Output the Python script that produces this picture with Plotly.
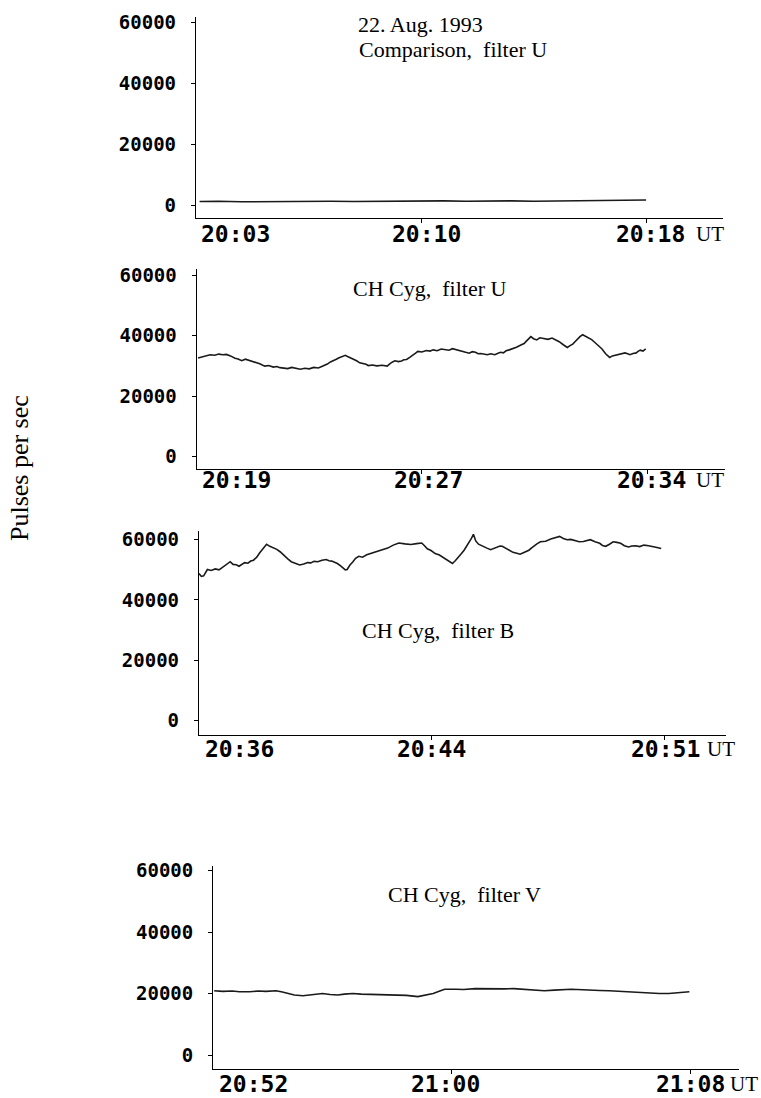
import plotly.graph_objects as go

# ---------------- data (x = position along scan, % of scan; y = pulses per sec) -------------
comp_u_x = [0.8, 5, 10, 15, 20, 25, 30, 35, 40, 45, 50, 55, 60, 65, 70, 75, 80, 85, 90, 95, 100]
comp_u_y = [1300, 1400, 1200, 1300, 1400, 1300, 1400, 1300, 1400, 1500, 1400, 1500, 1400,
            1500, 1500, 1400, 1500, 1600, 1600, 1700, 1800]

chu_x = [0.3, 1.1, 2, 3, 4, 4.9, 5.8, 6.6, 7.5, 8, 8.5, 9.2, 10, 10.8, 11.5, 12.2, 13, 14,
         15.1, 16, 17, 17.8, 18.5, 19.3, 20.2, 21.1, 22, 23, 24, 25, 26, 27, 27.9, 28.5, 29,
         29.7, 30.4, 31, 31.5, 32.3, 33, 33.5, 34, 34.8, 35.5, 36.2, 37, 37.6, 38.1, 39, 40,
         41.2, 42.3, 42.7, 43, 43.5, 44, 44.8, 45.5, 46, 46.6, 47.3, 48, 48.6, 49.1, 50, 51,
         51.8, 52.5, 53.4, 54.3, 55.1, 56, 56.8, 57.5, 58.5, 59.4, 60, 60.5, 61.2, 61.9, 62.5,
         63, 63.7, 64.5, 65.3, 66.2, 66.9, 67.5, 68.1, 68.7, 69.4, 70, 71, 72.1, 72.7, 73.2,
         73.7, 74.2, 74.8, 75.5, 76.2, 77, 78, 78.9, 79.7, 80.5, 81.4, 82.3, 82.9, 83.5, 84,
         84.5, 85.1, 85.7, 86.3, 87, 87.7, 88.3, 89.1, 90, 90.8, 91.7, 92.3, 93, 94, 95.1,
         95.7, 96.2, 96.9, 97.6, 98, 98.5, 99.1, 99.7]
chu_y = [32600, 33000, 33200, 33700, 33500, 33900, 33700, 33800, 33300, 32900, 32500, 32300,
         31700, 32200, 31900, 31500, 31000, 30700, 29900, 30100, 29600, 29800, 29400, 29200,
         29100, 29500, 29300, 28900, 29200, 29000, 29500, 29300, 29900, 30200, 30600, 31300,
         31700, 32200, 32600, 33200, 33500, 33100, 32800, 32100, 31700, 31000, 30800, 30500,
         30100, 30300, 30000, 30200, 29900, 30500, 30800, 31300, 31700, 31400, 31600, 32000,
         32100, 32800, 33400, 34200, 34800, 34600, 35100, 34900, 35300, 35000, 35600, 35300,
         35200, 35700, 35400, 35100, 34800, 34400, 34200, 34700, 34500, 34000, 34100, 33900,
         33700, 34000, 33700, 34200, 34500, 34300, 35000, 35300, 35600, 36200, 37000, 37400,
         38200, 38800, 39700, 39000, 38600, 39300, 39000, 38800, 39200, 38600, 38000, 37000,
         36100, 36700, 37200, 38000, 38800, 39700, 40300, 39900, 39300, 38700, 37900, 36800,
         35600, 34000, 32800, 33300, 33500, 33900, 34300, 34000, 33700, 34100, 34300, 34800,
         35200, 34900, 35600]

chb_x = [0, 0.5, 1, 1.4, 1.8, 2.6, 3.5, 4.3, 5.1, 5.9, 6.7, 7.3, 8, 8.6, 9.2, 9.8, 10.5, 11.1,
         11.7, 12.4, 13, 13.8, 14.5, 15.2, 16, 16.7, 17.4, 18.2, 19, 19.8, 20.7, 21.6, 22.5,
         23.3, 24, 24.7, 25.5, 26.4, 27.3, 27.9, 28.5, 29.1, 29.7, 30.4, 31, 31.4, 31.8, 32.4,
         33, 33.6, 34.3, 35.1, 36, 36.6, 37.2, 38, 38.8, 39.6, 40.5, 41.7, 42.9, 44.2, 45.5,
         46.7, 47.8, 48.4, 49, 49.8, 50.7, 51.6, 52.5, 53.4, 54.4, 55, 55.5, 56.2, 56.9, 57.5,
         58, 58.5, 58.9, 59.4, 60, 60.5, 61, 61.8, 62.6, 63.3, 64, 64.6, 65.1, 65.8, 66.5,
         67.4, 68.4, 68.9, 69.5, 70.1, 70.8, 71.4, 72, 72.6, 73.3, 74.4, 75.5, 76.5, 77.4,
         78.2, 79, 79.8, 80.7, 81.6, 82.5, 83.3, 84, 85, 86, 86.6, 87.3, 88.1, 88.9, 89.7,
         90.5, 91.3, 92.2, 92.9, 93.7, 94.6, 95.5, 96.5, 97.5, 98.3, 99.2]
chb_y = [48800, 47800, 48000, 49300, 50100, 49800, 50300, 50000, 51000, 52000, 52700, 51800,
         51700, 51200, 51900, 52400, 52200, 52900, 53200, 54200, 55600, 57000, 58500, 57800,
         57300, 56800, 56000, 54700, 53700, 52700, 52100, 51600, 51900, 52400, 52300, 52800,
         52700, 53200, 53400, 53000, 52900, 52500, 52100, 51300, 50600, 50000, 50100, 51600,
         52600, 53800, 54500, 54200, 55000, 55300, 55500, 56100, 56500, 56900, 57200, 58200,
         58900, 58600, 58400, 58700, 58900, 58000, 57000, 56400, 55400, 54900, 54000, 53100,
         52100, 53000, 53800, 55200, 56500, 57900, 59300, 60500, 61800, 59600, 58500, 58100,
         57600, 57200, 56700, 57100, 57300, 57900, 57800, 57200, 56500, 55800, 55400, 55200,
         55600, 56000, 56500, 57300, 58100, 58700, 59300, 59500, 60200, 60600, 61100, 60400,
         60000, 60100, 59800, 59300, 59400, 59800, 60000, 59300, 58800, 58100, 57800, 58500,
         59300, 59100, 58800, 58000, 57600, 57900, 58000, 57700, 58200, 58000, 57800, 57400,
         57100]

chv_x = [0.2, 2, 4, 5.5, 7.6, 9.5, 11, 13.2, 14.5, 15.6, 17, 18.8, 20.5, 22.9, 24.5, 26.1,
         27.5, 29.3, 31, 33, 34.9, 36.5, 38.9, 40.5, 42.9, 44.5, 46.1, 47.5, 48.5, 50.9, 52.5,
         54.9, 57, 59, 61, 63, 65.5, 67, 69.4, 71.5, 73, 75, 77.5, 79.5, 81, 83, 85, 87, 89.4,
         91.5, 93.5, 95.5, 97.4, 99.8]
chv_y = [20900, 20700, 20800, 20600, 20600, 20800, 20700, 20900, 20500, 20000, 19500, 19300,
         19600, 20000, 19700, 19500, 19800, 20000, 19800, 19700, 19600, 19700, 19500, 19400,
         19000, 19400, 20000, 20800, 21400, 21400, 21300, 21600, 21500, 21600, 21500, 21600,
         21300, 21000, 20900, 21100, 21300, 21400, 21200, 21000, 21000, 20900, 20700, 20500,
         20300, 20100, 20000, 20000, 20200, 20600]

panel_titles = ["Comparison,\u00a0 filter U", "CH Cyg,\u00a0 filter U",
                "CH Cyg,\u00a0 filter B", "CH Cyg,\u00a0 filter V"]
time_labels = [["20:03", "20:10", "20:18"],
               ["20:19", "20:27", "20:34"],
               ["20:36", "20:44", "20:51"],
               ["20:52", "21:00", "21:08"]]
y_ticks = [0, 20000, 40000, 60000]
y_ticktext = ["0", "20000", "40000", "60000"]
date_text = "22. Aug. 1993"
y_title = "Pulses per sec"

series = [(comp_u_x, comp_u_y), (chu_x, chu_y), (chb_x, chb_y), (chv_x, chv_y)]

# ---------------- layout geometry (pixels) ----------------
W, H = 761, 1098
geo = [
    dict(l=196, r=722.6, t=10, b=212, yr=[-4000, 61800], xmax=117.0,
         lab_y=228, first=3, mid=5, end=4, ut=48, title=(452.6, 43)),
    dict(l=196.7, r=724.5, t=264, b=465, yr=[-4200, 62000], xmax=117.2,
         lab_y=476, first=3, mid=7, end=4, ut=47, title=(429.7, 283)),
    dict(l=199, r=726.4, t=527, b=732.7, yr=[-4800, 63000], xmax=113.2,
         lab_y=747, first=4, mid=0, end=1, ut=40, title=(438, 627)),
    dict(l=213.2, r=739, t=865, b=1069, yr=[-4600, 61300], xmax=110.2,
         lab_y=1084, first=4, mid=-6, end=0, ut=38, title=(464, 893)),
]

mono = dict(family="DejaVu Sans Mono", color="black", weight="bold")
serif = "Liberation Serif, Times New Roman, serif"

fig = go.Figure()
annotations = []
layout = dict(width=W, height=H, margin=dict(l=0, r=0, t=0, b=0),
              paper_bgcolor="white", plot_bgcolor="white", showlegend=False)

for i, ((xs, ys), g) in enumerate(zip(series, geo)):
    n = "" if i == 0 else str(i + 1)
    fig.add_trace(go.Scatter(x=xs, y=ys, mode="lines", xaxis="x" + n, yaxis="y" + n,
                             line=dict(color="#1a1a1a", width=1.6), hoverinfo="skip"))
    layout["xaxis" + n] = dict(domain=[g["l"] / W, g["r"] / W], range=[0, g["xmax"]],
                               anchor="y" + n, showgrid=False, zeroline=False,
                               showline=True, linecolor="black", linewidth=1.3,
                               ticks="outside", ticklen=4, tickwidth=1, tickcolor="black",
                               tickvals=[50, 100], showticklabels=False, fixedrange=True)
    layout["yaxis" + n] = dict(domain=[1 - g["b"] / H, 1 - g["t"] / H], range=g["yr"],
                               anchor="x" + n, showgrid=False, zeroline=False,
                               showline=True, linecolor="black", linewidth=1.3,
                               ticks="outside", ticklen=4, tickwidth=1, tickcolor="black",
                               tickvals=y_ticks, ticktext=y_ticktext,
                               tickfont=dict(size=19, **mono), ticklabelstandoff=11,
                               fixedrange=True)
    ly = 1 - g["lab_y"] / H
    xr = "x" + n
    labs = time_labels[i]
    annotations.append(dict(x=0, y=ly, xref=xr, yref="paper", text=labs[0], showarrow=False,
                            xanchor="left", yanchor="middle", xshift=g["first"],
                            font=dict(size=23, **mono)))
    annotations.append(dict(x=50, y=ly, xref=xr, yref="paper", text=labs[1], showarrow=False,
                            xanchor="center", yanchor="middle", xshift=g["mid"],
                            font=dict(size=23, **mono)))
    annotations.append(dict(x=100, y=ly, xref=xr, yref="paper", text=labs[2], showarrow=False,
                            xanchor="center", yanchor="middle", xshift=g["end"],
                            font=dict(size=23, **mono)))
    annotations.append(dict(x=100, y=ly, xref=xr, yref="paper", text="UT", showarrow=False,
                            xanchor="left", yanchor="middle", xshift=g["ut"],
                            font=dict(size=21, family=serif, color="black")))
    tx, ty = g["title"]
    annotations.append(dict(x=tx / W, y=1 - ty / H, xref="paper", yref="paper",
                            text=panel_titles[i], showarrow=False, xanchor="center",
                            yanchor="middle", font=dict(size=22, family=serif, color="black")))

annotations.append(dict(x=420 / W, y=1 - 18 / H, xref="paper", yref="paper", text=date_text,
                        showarrow=False, xanchor="center", yanchor="middle",
                        font=dict(size=22, family=serif, color="black")))
annotations.append(dict(x=19 / W, y=1 - 464 / H, xref="paper", yref="paper", text=y_title,
                        showarrow=False, textangle=-90, xanchor="center", yanchor="middle",
                        font=dict(size=26, family=serif, color="black")))

layout["annotations"] = annotations
fig.update_layout(**layout)
fig.write_html("out.html", config={"displayModeBar": False},
               post_script="document.body.style.margin='0';document.body.style.overflow='hidden';")
